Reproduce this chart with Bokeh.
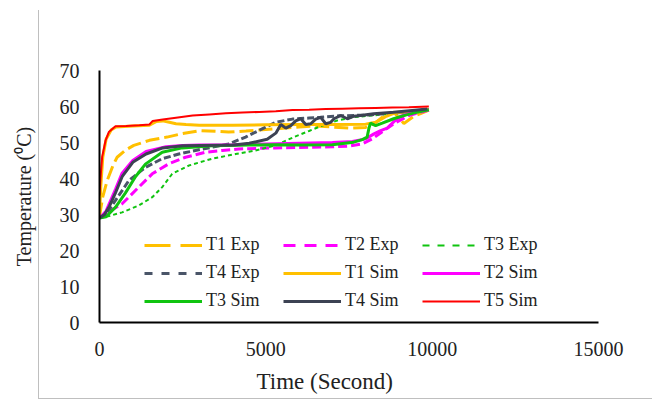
from bokeh.plotting import figure
from bokeh.models import (Range1d, FixedTicker, Legend, LegendItem, Title,
                          InlineStyleSheet)
from bokeh.embed import file_html
from bokeh.resources import INLINE

# ---- axis ticks -------------------------------------------------------------
x_ticks = [0, 5000, 10000, 15000]
x_tick_labels = ["0", "5000", "10000", "15000"]
y_ticks = [0, 10, 20, 30, 40, 50, 60, 70]

# ---- measured (Exp) series: time in s, temperature in degC ------------------
t1_exp_t = [0, 100, 230, 400, 530, 800, 1030, 1500, 2030, 2500, 3030, 3500,
            3880, 4400, 5000, 5300, 6000, 6500, 7000, 7500, 8000, 8300, 8600,
            8850, 9150, 9450, 9650, 9900]
t1_exp = [29.5, 35.0, 39.4, 43.5, 45.9, 48.0, 49.2, 50.6, 51.5, 52.5, 53.3,
          53.1, 52.9, 53.2, 53.6, 53.8, 54.3, 54.6, 54.3, 54.0, 54.2, 55.5,
          57.8, 58.4, 55.3, 57.3, 58.0, 59.0]

t2_exp_t = [0, 180, 680, 880, 1180, 1585, 2085, 2585, 3185, 3690, 4190, 5290,
            6000, 7000, 7500, 7900, 8200, 8500, 8900, 9300, 9900]
t2_exp = [29.0, 30.2, 33.0, 34.8, 37.6, 41.3, 44.1, 45.9, 47.3, 47.8, 48.2,
          48.5, 48.6, 48.8, 49.0, 49.6, 51.0, 53.0, 55.5, 57.5, 59.0]

t3_exp_t = [0, 300, 680, 1180, 1585, 1885, 2185, 2685, 3385, 4090, 4690, 5290,
            5840, 6300, 6640, 7145, 7600, 8200, 8800, 9400, 9900]
t3_exp = [29.0, 29.6, 30.6, 32.5, 34.8, 37.6, 41.3, 43.6, 45.5, 46.8, 47.8,
          49.2, 51.5, 53.2, 54.5, 56.1, 57.0, 57.5, 58.0, 58.5, 59.0]

t4_exp_t = [0, 200, 480, 880, 1380, 1885, 2385, 2885, 3385, 3885, 4390, 4890,
            5290, 5800, 6300, 6640, 7200, 8000, 8800, 9400, 9900]
t4_exp = [29.0, 30.2, 33.9, 39.4, 43.1, 45.5, 46.8, 47.8, 48.7, 49.6, 51.5,
          53.8, 55.6, 56.5, 56.8, 57.0, 57.4, 57.6, 58.2, 58.6, 59.2]

# ---- simulated (Sim) series -------------------------------------------------
t1_sim_t = [0, 40, 100, 200, 350, 500, 1000, 1500, 1700, 1900, 2100, 2300,
            2600, 3000, 4000, 5000, 6000, 7000, 8000, 8300, 8600, 8900, 9300,
            9900]
t1_sim = [29.5, 38.0, 46.0, 51.0, 53.5, 54.3, 54.6, 54.8, 55.8, 56.0, 55.6,
          55.2, 55.0, 54.8, 54.8, 54.9, 55.0, 55.0, 55.1, 55.6, 57.2, 58.3,
          58.6, 59.1]

t2_sim_t = [0, 200, 480, 680, 1000, 1400, 2000, 2500, 3000, 4000, 5000,
            6000, 7000, 7600, 8000, 8250, 8450, 8650, 8850, 9050, 9400, 9900]
t2_sim = [29.0, 31.0, 37.0, 41.5, 45.0, 47.5, 48.8, 49.2, 49.3, 49.4, 49.6,
          49.8, 50.0, 50.3, 51.0, 52.4, 53.3, 54.0, 55.8, 57.3, 58.3, 59.0]

t3_sim_t = [0, 200, 480, 780, 1080, 1380, 1885, 2485, 3385, 4500, 5290, 6000,
            7000, 7640, 7900, 8045, 8100, 8145, 8300, 8500, 8840, 9200, 9500,
            9900]
t3_sim = [29.0, 29.4, 32.0, 36.0, 40.5, 44.0, 47.3, 48.5, 49.1, 49.3, 49.4,
          49.3, 49.4, 50.1, 50.8, 51.5, 54.0, 55.4, 54.7, 55.4, 56.6, 57.6,
          58.3, 59.1]

t4_sim_t = [0, 150, 300, 480, 680, 1000, 1400, 1900, 2500, 3035, 4035, 4500,
            5040, 5300, 5450, 5600, 5750, 5900, 6050, 6200, 6350, 6500, 6650,
            6800, 6950, 7050, 7250, 7450, 7650, 7850, 8240, 8840, 9400, 9850]
t4_sim = [29.0, 30.0, 32.3, 36.0, 40.5, 44.5, 46.8, 48.5, 49.1, 49.2, 49.3,
          49.8, 50.9, 52.6, 55.0, 54.0, 54.7, 56.0, 56.6, 55.0, 55.2, 56.5,
          57.0, 55.2, 55.6, 56.6, 57.5, 56.6, 57.3, 57.5, 58.0, 58.4, 58.9,
          59.3]

t5_sim_t = [0, 30, 80, 180, 280, 480, 800, 1200, 1500, 1600, 1900, 2300, 2800,
            3300, 3800, 4300, 4800, 5300, 5800, 6300, 6800, 7300, 7800, 8300,
            8800, 9300, 9900]
t5_sim = [35.3, 40.0, 46.0, 50.5, 52.9, 54.5, 54.6, 54.8, 55.0, 56.0, 56.4,
          56.9, 57.5, 57.8, 58.1, 58.3, 58.5, 58.7, 59.0, 59.1, 59.3, 59.4,
          59.5, 59.6, 59.7, 59.8, 60.0]

SERIF = "Liberation Serif"
TEXT = "#222222"
ORANGE = "#FFC000"
MAGENTA = "#FF00FF"
GREEN = "#10C410"
SLATE = "#4A5568"
NAVY = "#3C4253"
RED = "#FF0000"

# light grey border of the chart area (left and bottom edges only)
chart_border = InlineStyleSheet(css="""
:host { position: relative; }
:host::after {
  content: ""; position: absolute; left: 38px; top: 10px;
  width: 614px; height: 389px; box-sizing: border-box;
  border-left: 1px solid #BFBFBF; border-bottom: 1px solid #BFBFBF;
  pointer-events: none;
}
""")

p = figure(width=652, height=401, output_backend="svg", toolbar_location=None,
           x_range=Range1d(0, 15000), y_range=Range1d(0, 70),
           min_border_left=99, min_border_right=54, min_border_top=70,
           min_border_bottom=79, stylesheets=[chart_border])
p.outline_line_color = None
p.grid.visible = False
p.background_fill_color = "white"
p.border_fill_color = "white"

for ax in (p.xaxis, p.yaxis):
    ax.axis_line_color = "black"
    ax.axis_line_width = 2
    ax.major_tick_line_color = None
    ax.minor_tick_line_color = None
    ax.major_label_text_font = SERIF
    ax.major_label_text_font_size = "20px"
    ax.major_label_text_color = TEXT

p.xaxis.ticker = FixedTicker(ticks=x_ticks)
p.xaxis.major_label_overrides = dict(zip(x_ticks, x_tick_labels))
p.xaxis.major_label_standoff = 13
p.yaxis.ticker = FixedTicker(ticks=y_ticks)
p.yaxis.major_label_standoff = 14
p.yaxis.axis_label = "Temperature (⁰C)"
p.yaxis.axis_label_text_font = SERIF
p.yaxis.axis_label_text_font_size = "20px"
p.yaxis.axis_label_text_font_style = "normal"
p.yaxis.axis_label_text_color = TEXT
p.yaxis.axis_label_standoff = 22

# off-screen range that carries the legend swatch copies of each curve
p.extra_y_ranges = {"swatch": Range1d(1000, 1001)}

# curves: (name, x, y, colour, width, dash in plot, dash in legend)
series = [
    ("T1 Exp", t1_exp_t, t1_exp, ORANGE, 3, "14 5", "26 10"),
    ("T2 Exp", t2_exp_t, t2_exp, MAGENTA, 3, "9 4", "12 9"),
    ("T3 Exp", t3_exp_t, t3_exp, GREEN, 2, "4 3", "7 8"),
    ("T4 Exp", t4_exp_t, t4_exp, SLATE, 3, "7 3", "8 9"),
    ("T1 Sim", t1_sim_t, t1_sim, ORANGE, 3, "solid", "solid"),
    ("T2 Sim", t2_sim_t, t2_sim, MAGENTA, 3, "solid", "solid"),
    ("T3 Sim", t3_sim_t, t3_sim, GREEN, 3, "solid", "solid"),
    ("T4 Sim", t4_sim_t, t4_sim, NAVY, 3, "solid", "solid"),
    ("T5 Sim", t5_sim_t, t5_sim, RED, 2, "solid", "solid"),
]

items = []
for name, xs, ys, color, lw, dash, leg_dash in series:
    p.line(xs, ys, line_color=color, line_width=lw, line_dash=dash)
    swatch = p.line(xs, ys, line_color=color, line_width=lw,
                    line_dash=leg_dash, y_range_name="swatch")
    items.append(LegendItem(label=name, renderers=[swatch]))

legend = Legend(items=items, location=(45, 11), orientation="horizontal",
                ncols=3, glyph_width=58, glyph_height=20, label_height=20,
                label_width=70, label_standoff=4, spacing=7, padding=5,
                margin=0, border_line_color=None, background_fill_alpha=0,
                label_text_font=SERIF, label_text_font_size="18px",
                label_text_color=TEXT)
p.add_layout(legend)

x_title = Title(text="Time (Second)", align="left", offset=157,
                text_font=SERIF, text_font_size="23px",
                text_font_style="normal", text_color=TEXT, standoff=16)
p.add_layout(x_title, "below")

open("out.html", "w").write(file_html(p, INLINE))
